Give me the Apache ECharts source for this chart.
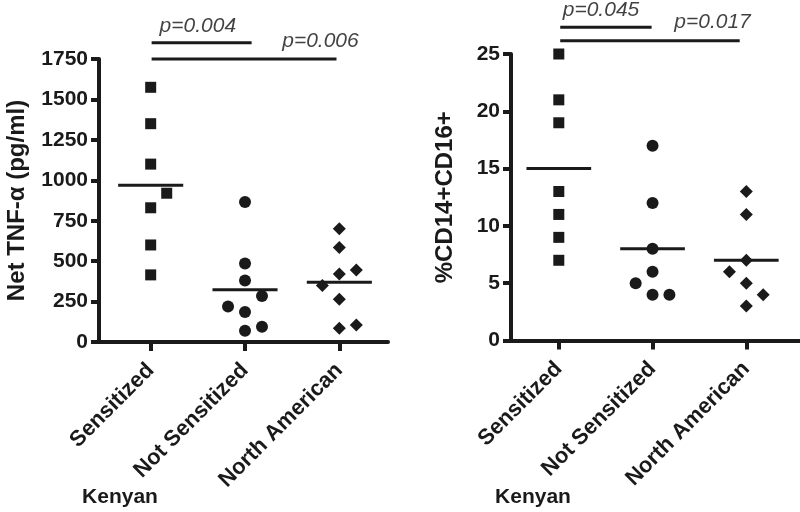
<!DOCTYPE html>
<html><head><meta charset="utf-8">
<script src="https://cdn.jsdelivr.net/npm/echarts@6/dist/echarts.min.js"></script>
<style>html,body{margin:0;padding:0;background:#fff}#c{width:800px;height:512px}</style>
</head><body><div id="c"></div>
<script>
// ---------- data ----------
const categories = ['Sensitized', 'Not Sensitized', 'North American'];
const groupLabel = 'Kenyan';

// Left panel: Net TNF-α (pg/ml)
const tnfSensitized = [1575, 1350, 1100, 920, 830, 600, 415];
const tnfSensitizedJitter = [0, 0, 0, 0.17, 0, 0, 0];
const tnfNotSensitized = [865, 485, 380, 285, 220, 185, 95, 70];
const tnfNotSensitizedJitter = [0, 0, 0, 0.18, -0.18, 0, 0.18, 0];
const tnfNorthAmerican = [700, 585, 445, 420, 350, 265, 105, 85];
const tnfNorthAmericanJitter = [0, 0, 0.18, 0, -0.18, 0, 0.18, 0];
const tnfAxis = { min: 0, max: 1750, interval: 250 };
const tnfSigLabels = ['p=0.004', 'p=0.006'];
const tnfSigFrom = [1.01, 1.01];
const tnfSigTo = [2.07, 2.97];
const tnfSigY = [1851, 1750];
const tnfSigTextX = [1.50, 2.80];
const tnfSigTextY = [1956, 1863];

// Right panel: %CD14+CD16+
const cdSensitized = [25, 21, 19, 13, 11, 9, 7];
const cdSensitizedJitter = [0, 0, 0, 0, 0, 0, 0];
const cdNotSensitized = [17, 12, 8, 6, 5, 4, 4];
const cdNotSensitizedJitter = [0, 0, 0, 0, -0.18, 0, 0.18];
const cdNorthAmerican = [13, 11, 7, 6, 5, 4, 3];
const cdNorthAmericanJitter = [0, 0, 0, -0.18, 0, 0.18, 0];
const cdAxis = { min: 0, max: 25, interval: 5 };
const cdSigLabels = ['p=0.045', 'p=0.017'];
const cdSigFrom = [1.015, 1.015];
const cdSigTo = [1.99, 2.93];
const cdSigY = [27.33, 26.16];
const cdSigTextX = [1.45, 2.64];
const cdSigTextY = [28.84, 27.77];

// ---------- build ----------
const INK = '#1a1a1a';
const FONT = '"Liberation Sans", Arial, Helvetica, sans-serif';
const mean = a => a.reduce((s, v) => s + v, 0) / a.length;

function points(idx, values, jitter, cat, symbol, size) {
  return {
    type: 'scatter', xAxisIndex: idx, yAxisIndex: idx, clip: false, z: 5,
    symbol: symbol, symbolSize: size,
    itemStyle: { color: INK, opacity: 1 },
    emphasis: { disabled: true },
    data: values.map((v, i) => [cat + jitter[i], v])
  };
}
function meanLine(idx, values, cat) {
  const m = mean(values);
  return {
    type: 'line', xAxisIndex: idx, yAxisIndex: idx, clip: false, z: 4,
    symbol: 'none', lineStyle: { color: INK, width: 3 },
    data: [[cat - 0.345, m], [cat + 0.345, m]]
  };
}
function sigSeries(idx, labels, from, to, y, tx, ty) {
  const out = [];
  labels.forEach((lab, i) => {
    out.push({
      type: 'line', xAxisIndex: idx, yAxisIndex: idx, clip: false,
      symbol: 'none', lineStyle: { color: INK, width: 3 },
      data: [[from[i], y[i]], [to[i], y[i]]]
    });
    out.push({
      type: 'scatter', xAxisIndex: idx, yAxisIndex: idx, clip: false,
      symbolSize: 1, itemStyle: { color: 'rgba(0,0,0,0)' },
      label: { show: true, position: 'inside', formatter: lab,
        fontFamily: FONT, fontStyle: 'italic', fontSize: 21, color: '#111' },
      data: [[tx[i], ty[i]]]
    });
  });
  return out;
}
function xAxisFor(idx, min, max) {
  return {
    type: 'value', gridIndex: idx, min: min, max: max,
    splitLine: { show: false },
    axisLine: { show: true, onZero: false, lineStyle: { color: INK, width: 4 } },
    axisTick: { show: true, customValues: [1, 2, 3], length: 9, lineStyle: { color: INK, width: 4 } },
    axisLabel: { show: true, customValues: [1, 2, 3], rotate: 45, margin: 25,
      fontFamily: FONT, fontWeight: 'bold', fontSize: 22, color: INK,
      formatter: v => categories[Math.round(v) - 1] || '' }
  };
}
function yAxisFor(idx, ax, name, gap) {
  return {
    type: 'value', gridIndex: idx, min: ax.min, max: ax.max, interval: ax.interval,
    name: name, nameLocation: 'middle', nameGap: gap, nameRotate: 90,
    nameTextStyle: { fontFamily: FONT, fontWeight: 'bold', fontSize: 24, color: INK },
    splitLine: { show: false },
    axisLine: { show: true, lineStyle: { color: INK, width: 4 } },
    axisTick: { show: true, length: 8, lineStyle: { color: INK, width: 4 } },
    axisLabel: { fontFamily: FONT, fontWeight: 'bold', fontSize: 21, color: INK, margin: 11,
      formatter: v => String(v) }
  };
}

const series = [].concat(
  [meanLine(0, tnfSensitized, 1), meanLine(0, tnfNotSensitized, 2), meanLine(0, tnfNorthAmerican, 3)],
  [points(0, tnfSensitized, tnfSensitizedJitter, 1, 'rect', 11),
   points(0, tnfNotSensitized, tnfNotSensitizedJitter, 2, 'circle', 12),
   points(0, tnfNorthAmerican, tnfNorthAmericanJitter, 3, 'diamond', 13)],
  sigSeries(0, tnfSigLabels, tnfSigFrom, tnfSigTo, tnfSigY, tnfSigTextX, tnfSigTextY),
  [meanLine(1, cdSensitized, 1), meanLine(1, cdNotSensitized, 2), meanLine(1, cdNorthAmerican, 3)],
  [points(1, cdSensitized, cdSensitizedJitter, 1, 'rect', 11),
   points(1, cdNotSensitized, cdNotSensitizedJitter, 2, 'circle', 12),
   points(1, cdNorthAmerican, cdNorthAmericanJitter, 3, 'diamond', 13)],
  sigSeries(1, cdSigLabels, cdSigFrom, cdSigTo, cdSigY, cdSigTextX, cdSigTextY)
);

const chart = echarts.init(document.getElementById('c'), null, { renderer: 'canvas' });
chart.setOption({
  animation: false,
  backgroundColor: '#fff',
  grid: [
    { left: 99, top: 59, width: 289, height: 283 },
    { left: 511, top: 54, width: 292, height: 286.5 }
  ],
  xAxis: [xAxisFor(0, 0.452, 3.516), xAxisFor(1, 0.49, 3.573)],
  yAxis: [yAxisFor(0, tnfAxis, 'Net TNF-α (pg/ml)', 70), yAxisFor(1, cdAxis, '%CD14+CD16+', 54)],
  series: series,
  graphic: [
    { type: 'text', style: { text: groupLabel, x: 120, y: 497, textAlign: 'center', textVerticalAlign: 'middle',
      font: 'bold 21px ' + FONT, fill: INK } },
    { type: 'text', style: { text: groupLabel, x: 533, y: 497, textAlign: 'center', textVerticalAlign: 'middle',
      font: 'bold 21px ' + FONT, fill: INK } }
  ]
});
</script>
</body></html>
